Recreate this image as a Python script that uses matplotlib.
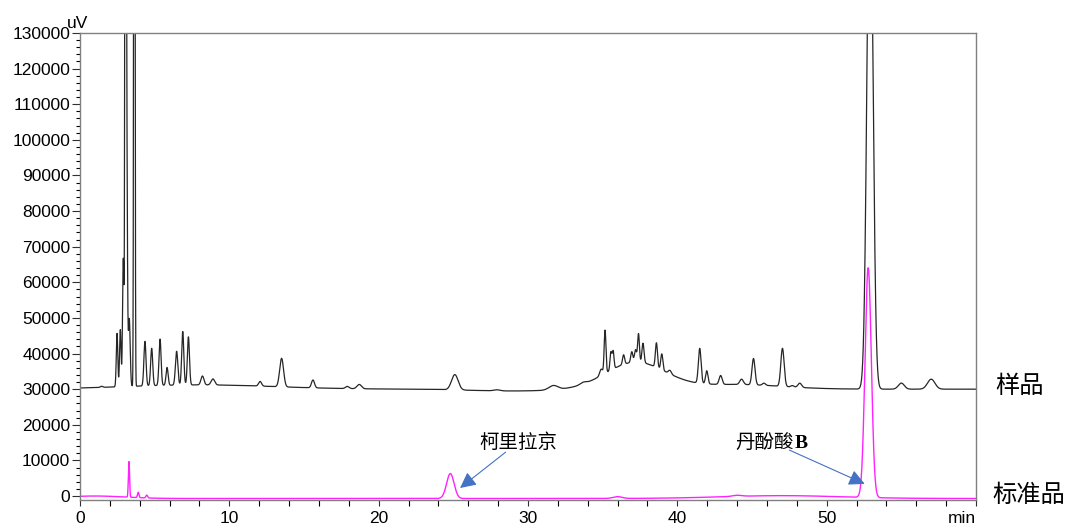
import numpy as np
import matplotlib.pyplot as plt
from matplotlib.ticker import MultipleLocator

# sample trace (样品): baseline plus peaks
sample_base = 30000
# retention time (min), height above baseline (uV), width sigma (min)
sample_rt = [8.0, 29.0, 37.2, 44.0,
             1.45, 2.48, 2.70, 2.90, 3.05, 3.12, 3.30, 3.64,
             4.35, 4.80, 5.36, 5.83, 6.47, 6.88, 7.26, 8.2, 8.9,
             12.06, 13.5, 15.6, 17.9, 18.7, 25.1, 27.9, 31.7, 33.7,
             34.9, 35.16, 35.55, 35.7, 36.4, 36.95, 37.2, 37.4, 37.7,
             38.6, 38.96, 39.5, 41.5, 41.97, 42.9, 44.3, 45.1, 45.8,
             47.04, 47.7, 48.2, 52.9, 55.0, 57.0]
sample_h = [1200, -500, 7500, 1300,
            300, 15000, 16000, 36000, 400000, 75000, 19000, 400000,
            12500, 10500, 13000, 5000, 9500, 15000, 13500, 2500, 1700,
            1300, 8000, 2200, 600, 1200, 4300, 300, 1200, 500,
            1800, 12100, 5000, 5000, 2700, 3000, 3500, 8000, 5500,
            6900, 4500, 1000, 9800, 3700, 2500, 1500, 7400, 600,
            10700, 400, 1200, 150000, 1700, 2800]
sample_w = [5.0, 3.0, 2.0, 3.0,
            0.08, 0.05, 0.05, 0.05, 0.035, 0.05, 0.06, 0.035,
            0.07, 0.07, 0.07, 0.07, 0.08, 0.07, 0.07, 0.1, 0.12,
            0.1, 0.13, 0.1, 0.12, 0.15, 0.22, 0.2, 0.3, 0.2,
            0.1, 0.06, 0.06, 0.06, 0.07, 0.07, 0.07, 0.06, 0.07,
            0.07, 0.07, 0.1, 0.09, 0.08, 0.1, 0.12, 0.1, 0.1,
            0.11, 0.1, 0.12, 0.2, 0.2, 0.25]

# standard trace (标准品)
std_base = -700
std_rt = [1.0, 47.0, 3.28, 3.9, 4.47, 24.8, 36.0, 44.0, 52.78]
std_h = [700, 800, 10000, 1500, 800, 7000, 500, 300, 64500]
std_w = [2.0, 4.0, 0.04, 0.05, 0.06, 0.25, 0.3, 0.3, 0.21]

x_ticks = [0, 10, 20, 30, 40, 50, 60]
x_labels = ['0', '10', '20', '30', '40', '50', 'min']
y_ticks = list(range(0, 130001, 10000))

W, H = 1068, 525


def trace(t, base, rt, h, w):
    y = np.full_like(t, float(base))
    for r, a, s in zip(rt, h, w):
        y += a * np.exp(-0.5 * ((t - r) / s) ** 2)
    return y


def px(x, y):
    # pixel position in the picture -> figure fraction
    return x / W, 1 - y / H


def main():
    plt.rcParams['font.family'] = ['Liberation Sans', 'DejaVu Sans']
    cjk = ['Noto Sans CJK SC', 'DejaVu Sans']

    t = np.linspace(0, 60, 12001)
    y_sample = trace(t, sample_base, sample_rt, sample_h, sample_w)
    y_std = trace(t, std_base, std_rt, std_h, std_w)

    fig = plt.figure(figsize=(W / 100, H / 100), dpi=100)
    ax = fig.add_axes([80 / W, 1 - 500 / H, 896 / W, 467 / H])

    ax.plot(t, y_sample, color='#262626', lw=0.9)
    ax.plot(t, y_std, color='#ff22ff', lw=1.0)

    ax.set_xlim(0, 60)
    ax.set_ylim(-1120, 130000)
    ax.set_xticks(x_ticks)
    ax.set_xticklabels(x_labels)
    ax.get_xticklabels()[-1].set_ha('right')
    ax.set_yticks(y_ticks)
    ax.xaxis.set_minor_locator(MultipleLocator(2))
    ax.yaxis.set_minor_locator(MultipleLocator(2000))
    ax.tick_params(axis='both', labelsize=12.5, colors='#303030', labelcolor='black')
    ax.tick_params(axis='y', which='major', length=6, width=0.8, pad=1)
    ax.tick_params(axis='y', which='minor', length=3, width=0.8)
    ax.tick_params(axis='x', which='both', length=4, width=0.8, pad=4)
    for sp in ax.spines.values():
        sp.set_color('#808080')
        sp.set_linewidth(1.0)

    fig.text(*px(67, 28), 'uV', fontsize=12.5, ha='left', va='baseline')

    # trace names on the right
    fig.text(*px(1020, 386), '样品', family=cjk, fontsize=17.5, ha='center', va='center')
    fig.text(*px(1029, 495), '标准品', family=cjk, fontsize=17.5, ha='center', va='center')

    # peak annotations
    arrow = dict(arrowstyle='-|>', color='#4472c4', lw=0.8, mutation_scale=24,
                 shrinkA=0, shrinkB=0)
    ax.annotate('', xy=(25.45, 2250), xytext=(28.5, 12300), arrowprops=arrow)
    ax.annotate('', xy=(52.55, 3400), xytext=(47.5, 12900), arrowprops=arrow)
    fig.text(*px(518, 442), '柯里拉京', family=cjk, fontsize=14, ha='center', va='center')
    fig.text(*px(794, 442), '丹酚酸', family=cjk, fontsize=14, ha='right', va='center')
    fig.text(*px(795, 443), 'B', family='Liberation Serif', fontweight='bold',
             fontsize=14, ha='left', va='center')

    fig.savefig('out.png', dpi=100)


if __name__ == '__main__':
    main()
